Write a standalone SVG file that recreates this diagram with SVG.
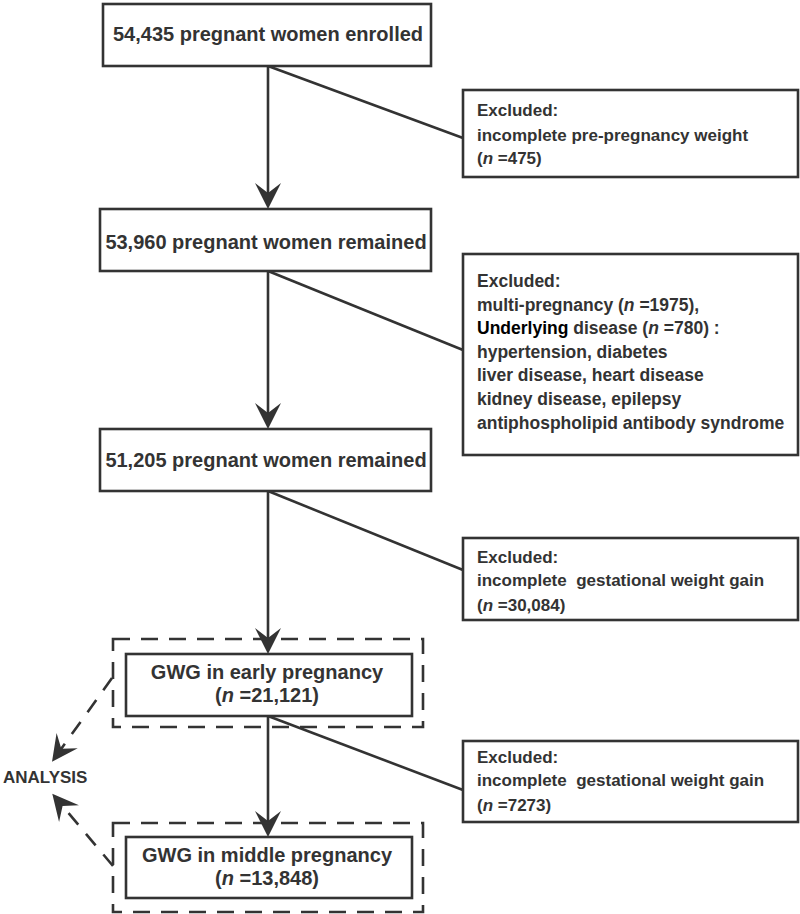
<svg xmlns="http://www.w3.org/2000/svg" width="800" height="914" viewBox="0 0 800 914">
<style>
  .box{fill:#fff;stroke:#333;stroke-width:2.6}
  .dash{fill:none;stroke:#333;stroke-width:2.6;stroke-dasharray:17 11}
  .ln{fill:none;stroke:#333;stroke-width:2.6}
  .dl{fill:none;stroke:#333;stroke-width:2.6;stroke-dasharray:15 12}
  text{font-family:"Liberation Sans",Arial,sans-serif;font-weight:bold;fill:#333}
  .main{font-size:20px;text-anchor:middle}
  .ex{font-size:17px}
  .ex2{font-size:17.5px}
  .an{font-size:17px}
  .it{font-style:italic}
</style>
<defs>
  <marker id="ah" markerUnits="userSpaceOnUse" viewBox="-27 -14 28 28" markerWidth="28" markerHeight="28" refX="-12" refY="0" orient="auto">
    <path d="M0,0 L-26,-13 L-16,0 L-26,13 Z" fill="#333"/>
  </marker>
</defs>
<rect width="800" height="914" fill="#fff"/>
<g id="connectors">
  <line class="ln" x1="268" y1="66" x2="268" y2="197" marker-end="url(#ah)"/>
  <line class="ln" x1="268" y1="271" x2="268" y2="417" marker-end="url(#ah)"/>
  <line class="ln" x1="268" y1="491" x2="268" y2="642" marker-end="url(#ah)"/>
  <line class="ln" x1="268" y1="716" x2="268" y2="825" marker-end="url(#ah)"/>
  <line class="ln" x1="268" y1="66" x2="463" y2="138"/>
  <line class="ln" x1="268" y1="271" x2="463" y2="350"/>
  <line class="ln" x1="268" y1="491" x2="463" y2="570"/>
  <line class="ln" x1="268" y1="716" x2="463" y2="790"/>
  <line class="dl" x1="112" y1="678" x2="59" y2="752" marker-end="url(#ah)"/>
  <line class="dl" x1="113" y1="866" x2="60" y2="803" marker-end="url(#ah)"/>
</g>
<g id="n1">
  <rect class="box" x="103" y="4" width="328" height="62"/>
  <text class="main" x="268" y="41">54,435 pregnant women enrolled</text>
</g>
<g id="x1">
  <rect class="box" x="463" y="90" width="335" height="87"/>
  <text class="ex" x="477" y="116">Excluded:</text>
  <text class="ex" x="477" y="141">incomplete pre-pregnancy weight</text>
  <text class="ex" x="477" y="164">(<tspan class="it">n</tspan> =475)</text>
</g>
<g id="n2">
  <rect class="box" x="100" y="209" width="331" height="62"/>
  <text class="main" x="266" y="249">53,960 pregnant women remained</text>
</g>
<g id="x2">
  <rect class="box" x="463" y="254" width="335" height="201"/>
  <text class="ex2" x="477" y="287">Excluded:</text>
  <text class="ex2" x="477" y="311">multi-pregnancy (<tspan class="it">n</tspan> =1975),</text>
  <text class="ex2" x="477" y="334"><tspan fill="#000">Underlying</tspan> disease (<tspan class="it">n</tspan> =780) :</text>
  <text class="ex2" x="477" y="358">hypertension, diabetes</text>
  <text class="ex2" x="477" y="381">liver disease, heart disease</text>
  <text class="ex2" x="477" y="405">kidney disease, epilepsy</text>
  <text class="ex2" x="477" y="429">antiphospholipid antibody syndrome</text>
</g>
<g id="n3">
  <rect class="box" x="100" y="429" width="331" height="62"/>
  <text class="main" x="266" y="467">51,205 pregnant women remained</text>
</g>
<g id="x3">
  <rect class="box" x="463" y="538" width="335" height="82"/>
  <text class="ex" x="477" y="563">Excluded:</text>
  <text class="ex" x="477" y="586">incomplete&#160; gestational weight gain</text>
  <text class="ex" x="477" y="611">(<tspan class="it">n</tspan> =30,084)</text>
</g>
<g id="n4">
  <rect class="dash" x="113" y="639" width="310" height="88"/>
  <rect class="box" x="126" y="654" width="286" height="62"/>
  <text class="main" x="267" y="679">GWG in early pregnancy</text>
  <text class="main" x="267" y="702">(<tspan class="it">n</tspan> =21,121)</text>
</g>
<g id="x4">
  <rect class="box" x="463" y="741" width="335" height="81"/>
  <text class="ex" x="477" y="763">Excluded:</text>
  <text class="ex" x="477" y="786">incomplete&#160; gestational weight gain</text>
  <text class="ex" x="477" y="811">(<tspan class="it">n</tspan> =7273)</text>
</g>
<g id="n5">
  <rect class="dash" x="113" y="823" width="310" height="89"/>
  <rect class="box" x="126" y="837" width="286" height="61"/>
  <text class="main" x="267" y="862">GWG in middle pregnancy</text>
  <text class="main" x="267" y="885">(<tspan class="it">n</tspan> =13,848)</text>
</g>
<g id="analysis">
  <text class="an" x="3" y="783">ANALYSIS</text>
</g>
</svg>
